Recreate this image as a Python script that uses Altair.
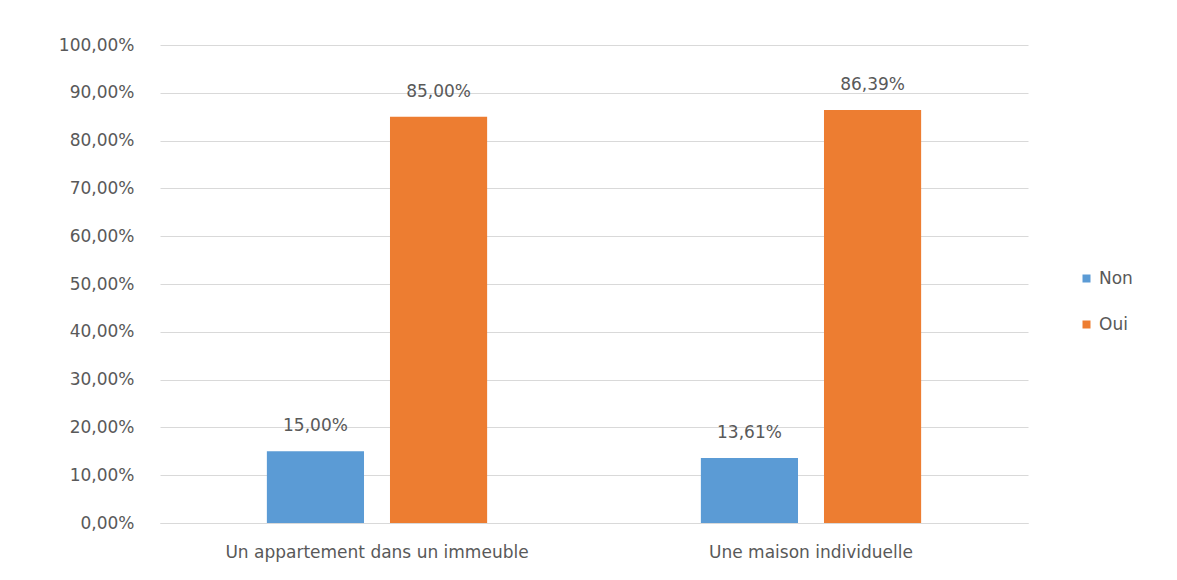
import altair as alt
import pandas as pd

categories = ["Un appartement dans un immeuble", "Une maison individuelle"]
series = ["Non", "Oui"]
non_values = [0.15, 0.1361]
oui_values = [0.85, 0.8639]
y_ticks = [0, 0.1, 0.2, 0.3, 0.4, 0.5, 0.6, 0.7, 0.8, 0.9, 1.0]
colors = ["#5B9BD5", "#ED7D31"]

rows = []
for i, c in enumerate(categories):
    rows.append({"cat": c, "rep": "Non", "value": non_values[i]})
    rows.append({"cat": c, "rep": "Oui", "value": oui_values[i]})
df = pd.DataFrame(rows)

FONT = "DejaVu Sans"
TXT = "#595959"
fmt = "replace(format(datum.value, '.2%'), '.', ',')"

base = alt.Chart(df).encode(
    x=alt.X("cat:N", sort=categories, title=None,
            scale=alt.Scale(paddingInner=0, paddingOuter=0),
            axis=alt.Axis(labelAngle=0, ticks=False, domain=True, domainColor="#D9D9D9",
                          labelPadding=21, labelFontSize=17, labelColor=TXT, labelFont=FONT,
                          labelLimit=0, grid=False)),
    xOffset=alt.XOffset("rep:N", sort=series,
                        scale=alt.Scale(paddingInner=0.211, paddingOuter=0.868)),
)

bars = base.mark_bar().encode(
    y=alt.Y("value:Q", title=None,
            scale=alt.Scale(domain=[0, 1], nice=False),
            axis=alt.Axis(values=y_ticks, labelExpr=fmt, ticks=False, domain=False,
                          labelPadding=26, labelFontSize=17, labelColor=TXT, labelFont=FONT,
                          gridColor="#D9D9D9", gridWidth=1)),
    color=alt.Color("rep:N", sort=series, title=None,
                    scale=alt.Scale(domain=series, range=colors),
                    legend=alt.Legend(orient="none", legendX=918, legendY=225,
                                      symbolType="square", symbolSize=64,
                                      labelFontSize=17, labelColor=TXT, labelFont=FONT,
                                      rowPadding=28, symbolStrokeWidth=0)),
)

labels = base.mark_text(baseline="bottom", dy=-16, fontSize=17, color=TXT, font=FONT).encode(
    y=alt.Y("value:Q"),
    text=alt.Text("label:N"),
).transform_calculate(label="replace(format(datum.value, '.2%'), '.', ',')")

chart = alt.layer(bars, labels).properties(
    width=868, height=478,
    autosize=alt.AutoSizeParams(type="none"),
    padding={"left": 152, "top": 37, "right": 140, "bottom": 48},
).configure(background="white").configure_view(stroke=None, strokeWidth=0)

chart.save("out.html", embed_options={"renderer": "svg", "actions": False})
